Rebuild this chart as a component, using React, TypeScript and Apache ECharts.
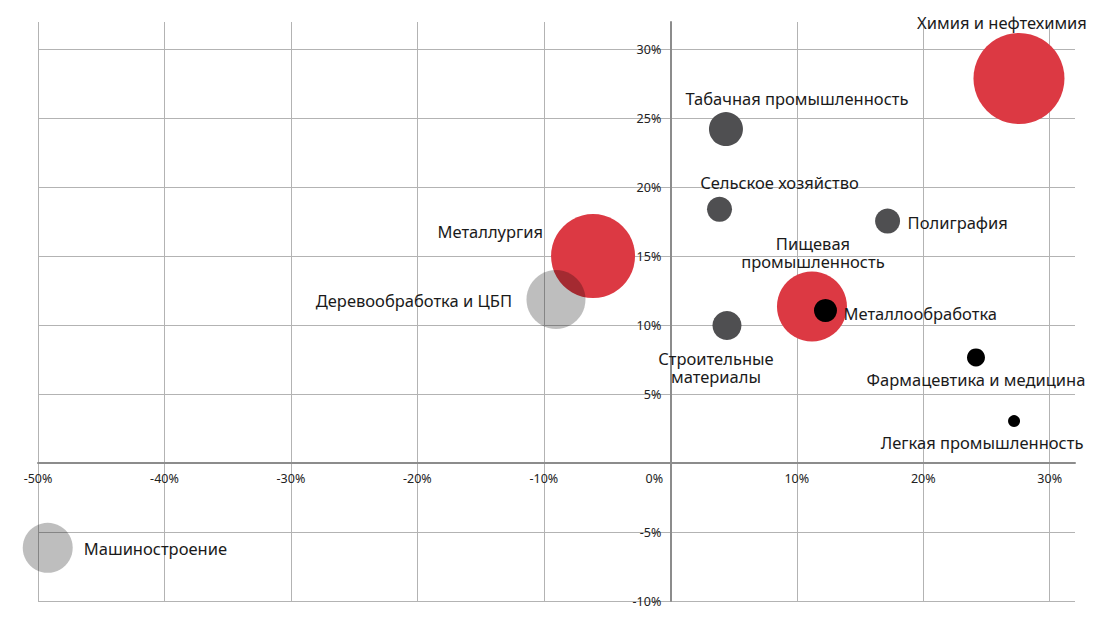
import React, { useEffect, useRef } from "react";
import * as echarts from "echarts";

// x: growth %, y: growth %, size: bubble diameter weight
const redNames = ["Химия и нефтехимия", "Металлургия", "Пищевая\nпромышленность"];
const redX = [27.57, -6.11, 11.2];
const redY = [27.9, 15.02, 11.36];
const redSize = [91, 84, 70];

const darkNames = ["Табачная промышленность", "Сельское хозяйство", "Полиграфия", "Строительные\nматериалы"];
const darkX = [4.4, 3.89, 17.18, 4.48];
const darkY = [24.23, 18.41, 17.56, 9.98];
const darkSize = [34, 25, 25, 29];

const blackNames = ["Металлообработка", "Фармацевтика и медицина", "Легкая промышленность"];
const blackX = [12.27, 24.17, 27.18];
const blackY = [11.07, 7.67, 3.05];
const blackSize = [23, 18, 12];

const lightNames = ["Деревообработка и ЦБП", "Машиностроение"];
const lightX = [-9.04, -49.23];
const lightY = [11.87, -6.14];
const lightSize = [59, 50];

const xTicks = [-50, -40, -30, -20, -10, 0, 10, 20, 30];
const yTicks = [-10, -5, 5, 10, 15, 20, 25, 30];

// label placement relative to bubble centre: [align, dx, dy]
const labelPlace: Record<string, [string, number, number]> = {
  "Химия и нефтехимия": ["center", -17, -56],
  "Металлургия": ["right", -50, -25],
  "Пищевая\nпромышленность": ["center", 1, -54],
  "Табачная промышленность": ["center", 71, -31],
  "Сельское хозяйство": ["center", 60, -27],
  "Полиграфия": ["left", 20, 1],
  "Строительные\nматериалы": ["center", -11, 42],
  "Металлообработка": ["left", 18, 3],
  "Фармацевтика и медицина": ["center", 0, 22],
  "Легкая промышленность": ["center", -32, 21],
  "Деревообработка и ЦБП": ["right", -44, 1],
  "Машиностроение": ["left", 36, 1],
};

const FONT = "Noto Sans";

function build(names: string[], xs: number[], ys: number[], sizes: number[]) {
  return names.map((n, i) => {
    const p = labelPlace[n];
    return {
      name: n,
      value: [xs[i], ys[i], sizes[i]],
      label: {
        show: true,
        position: "inside",
        align: p[0],
        verticalAlign: "middle",
        offset: [p[1], p[2]],
        formatter: n,
        color: "#1a1a1a",
        fontSize: 16.5,
        lineHeight: 18,
        fontFamily: FONT,
      },
    };
  });
}

export default function App() {
  const ref = useRef<HTMLDivElement>(null);
  useEffect(() => {
    if (!ref.current) return;
    const chart = echarts.init(ref.current, null, { renderer: "svg" });
    const mkSeries = (data: any[], color: string, z: number) => ({
      type: "scatter",
      data,
      z,
      symbolSize: (v: number[]) => v[2],
      itemStyle: { color, opacity: 1 },
      emphasis: { disabled: true },
    });
    chart.setOption({
      animation: false,
      textStyle: { fontFamily: FONT },
      grid: { left: 38, right: 23, top: 22, bottom: 25, containLabel: false },
      xAxis: {
        type: "value",
        min: -50,
        max: 32,
        interval: 10,
        position: "bottom",
        offset: -138,
        axisLine: { onZero: false, lineStyle: { color: "#8c8c8c", width: 2 } },
        axisTick: { show: false },
        axisLabel: {
          margin: 9,
          fontSize: 12.5,
          color: "#222",
          fontFamily: FONT,
          showMaxLabel: false,
          formatter: (v: number) =>
            v === 0 ? "{z|0%}" : xTicks.includes(v) ? v + "%" : "",
          rich: {
            z: { padding: [0, 32, 0, 0], fontSize: 12.5, color: "#222", fontFamily: FONT },
          },
        },
        splitLine: { show: true, showMaxLine: false, lineStyle: { color: "#b3b3b3", width: 1 } },
      },
      yAxis: {
        type: "value",
        min: -10,
        max: 32,
        interval: 5,
        position: "left",
        offset: -632.3,
        axisLine: { onZero: false, lineStyle: { color: "#8c8c8c", width: 2 } },
        axisTick: { show: false },
        axisLabel: {
          margin: 9,
          fontSize: 12.5,
          color: "#222",
          fontFamily: FONT,
          showMaxLabel: false,
          padding: [4, 0, 0, 0],
          formatter: (v: number) => (yTicks.includes(v) ? v + "%" : ""),
        },
        splitLine: { show: true, showMaxLine: false, lineStyle: { color: "#b3b3b3", width: 1 } },
      },
      series: [
        mkSeries(build(redNames, redX, redY, redSize), "#dc3943", 2),
        mkSeries(build(darkNames, darkX, darkY, darkSize), "#4f4f51", 3),
        mkSeries(build(blackNames, blackX, blackY, blackSize), "#000000", 4),
        mkSeries(build(lightNames, lightX, lightY, lightSize), "rgba(0,0,0,0.255)", 5),
      ],
    });
    return () => chart.dispose();
  }, []);
  return (
    <div
      ref={ref}
      style={{ position: "absolute", left: 0, top: 0, width: 1098, height: 626 }}
    />
  );
}
